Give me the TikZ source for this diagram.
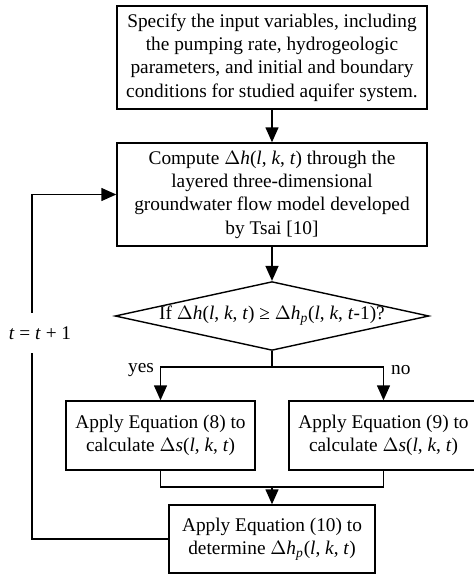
\documentclass[tikz,border=0pt]{standalone}
\usepackage{fontspec}
\setmainfont{Liberation Serif}
\usepackage{tikz}
\usetikzlibrary{shapes.geometric}
\usetikzlibrary{arrows.meta}
\newcommand{\lkt}[1]{(\textit{l}, \textit{k}, \textit{#1})}
\newcommand{\dhp}{$\Delta$\textit{h}\textsubscript{\textit{p}}}

\tikzset{
  procbox/.style={draw, line width=0.8pt, rectangle, align=center, inner sep=0pt},
  decbox/.style={draw, line width=0.8pt, diamond, aspect=4.56, inner sep=0pt, align=center},
  flow/.style={line width=0.8pt, -{Triangle[length=0.3cm, width=0.26cm]}},
  link/.style={line width=0.8pt}
}

\begin{document}
\begin{tikzpicture}[font=\fontsize{11}{13.3}\selectfont]
       \useasboundingbox (0cm, 0cm) rectangle (9.48cm, -11.52cm);

       \node[procbox, minimum width=6.2cm, minimum height=2.06cm] (input) at (5.44cm, -1.15cm)
         {Specify the input variables, including\\the pumping rate, hydrogeologic\\parameters, and initial and boundary\\conditions for studied aquifer system.};
       \node[procbox, minimum width=6.2cm, minimum height=2.06cm] (model) at (5.44cm, -3.89cm)
         {Compute $\Delta$\textit{h}\lkt{t} through the\\layered three-dimensional\\groundwater flow model developed\\by Tsai [10]};
       \node[decbox, minimum width=6.2cm, minimum height=1.36cm] (check) at (5.44cm, -6.32cm)
         {If $\Delta$\textit{h}\lkt{t} ≥ \dhp(\textit{l}, \textit{k}, \textit{t}-1)?};
       \node[procbox, minimum width=3.78cm, minimum height=1.38cm] (eqa) at (3.21cm, -8.71cm)
         {Apply Equation (8) to\\calculate $\Delta$\textit{s}\lkt{t}};
       \node[procbox, minimum width=3.78cm, minimum height=1.38cm] (eqb) at (7.67cm, -8.71cm)
         {Apply Equation (9) to\\calculate $\Delta$\textit{s}\lkt{t}};
       \node[procbox, minimum width=4.12cm, minimum height=1.36cm] (update) at (5.44cm, -10.78cm)
         {Apply Equation (10) to\\determine \dhp\lkt{t}};

       \coordinate (split) at (5.44cm, -7.34cm);
       \coordinate (merge) at (5.44cm, -9.74cm);
       \node[minimum height=0.8cm, inner sep=0pt] (step) at (0.8cm, -6.66cm) {\textit{t} = \textit{t} + 1};
       \node[anchor=east, inner sep=1pt] (yes) at (3.12cm, -7.4cm) {yes};
       \node[anchor=west, inner sep=1pt] (no) at (7.78cm, -7.4cm) {no};

       \draw[flow] (input) -- (model);
       \draw[flow] (model) -- (check);
       \draw[link] (check.south) -- (split);
       \draw[flow] (split) -| (eqa.north);
       \draw[flow] (split) -| (eqb.north);
       \draw[link] (eqa.south) |- (merge);
       \draw[link] (eqb.south) |- (merge);
       \draw[flow] (merge) -- (update.north);
       \draw[link] (update.west) -| ([xshift=-0.16cm]step.south);
       \draw[flow] ([xshift=-0.16cm]step.north) |- (model.west);
    \end{tikzpicture}
\end{document}
